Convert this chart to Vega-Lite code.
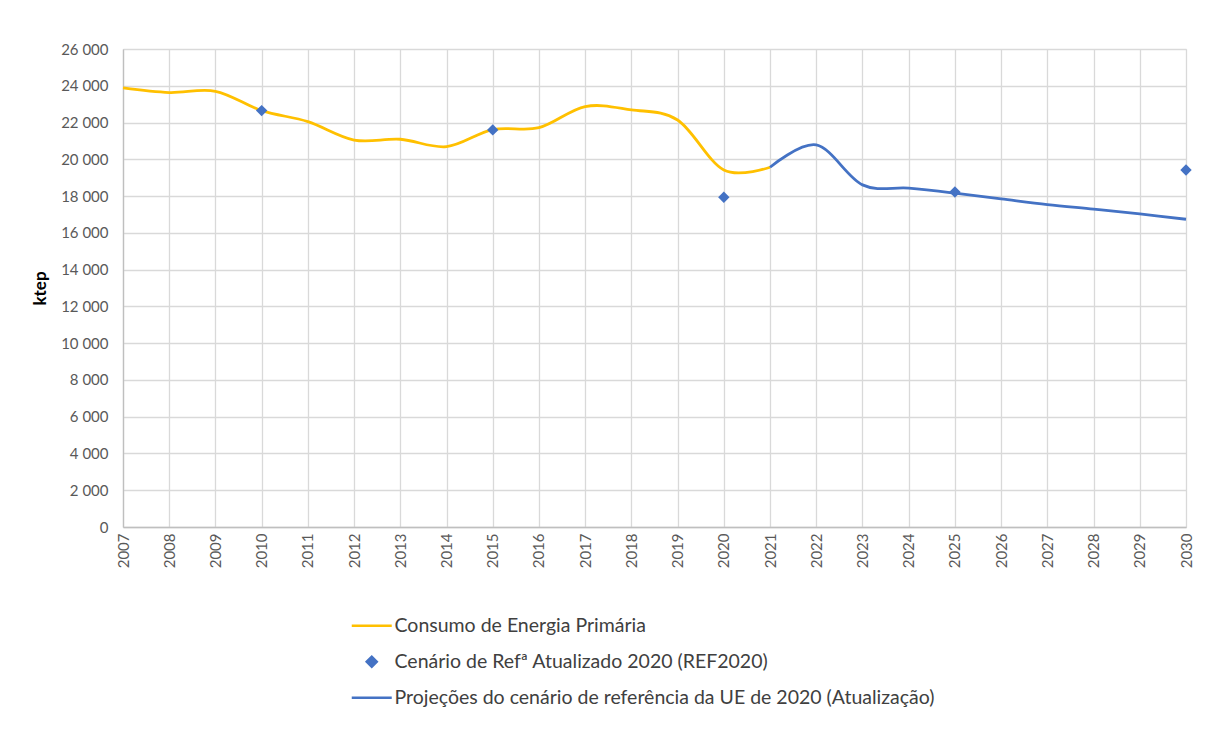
{
  "$schema": "https://vega.github.io/schema/vega-lite/v6.json",
  "width": 1063,
  "height": 478,
  "autosize": {"type": "none"},
  "padding": {"left": 123, "top": 49, "right": 23, "bottom": 202},
  "background": "white",
  "config": {
    "view": {"stroke": "#d9d9d9"},
    "font": "Lato",
    "axis": {
      "gridColor": "#d9d9d9",
      "gridWidth": 1.3,
      "domainColor": "#bfbfbf",
      "domainWidth": 1.3,
      "ticks": false,
      "labelColor": "#595959",
      "labelFont": "Lato",
      "labelFontSize": 15
    }
  },
  "datasets": {
    "lines": [
      {"year": 2007, "value": 23880, "series": "Consumo de Energia Primária"},
      {"year": 2008, "value": 23630, "series": "Consumo de Energia Primária"},
      {"year": 2009, "value": 23700, "series": "Consumo de Energia Primária"},
      {"year": 2010, "value": 22650, "series": "Consumo de Energia Primária"},
      {"year": 2011, "value": 22050, "series": "Consumo de Energia Primária"},
      {"year": 2012, "value": 21050, "series": "Consumo de Energia Primária"},
      {"year": 2013, "value": 21090, "series": "Consumo de Energia Primária"},
      {"year": 2014, "value": 20690, "series": "Consumo de Energia Primária"},
      {"year": 2015, "value": 21620, "series": "Consumo de Energia Primária"},
      {"year": 2016, "value": 21720, "series": "Consumo de Energia Primária"},
      {"year": 2017, "value": 22870, "series": "Consumo de Energia Primária"},
      {"year": 2018, "value": 22690, "series": "Consumo de Energia Primária"},
      {"year": 2019, "value": 22140, "series": "Consumo de Energia Primária"},
      {"year": 2020, "value": 19420, "series": "Consumo de Energia Primária"},
      {"year": 2021, "value": 19570, "series": "Consumo de Energia Primária"},
      {"year": 2021, "value": 19570, "series": "Projeções do cenário de referência da UE de 2020 (Atualização)"},
      {"year": 2022, "value": 20780, "series": "Projeções do cenário de referência da UE de 2020 (Atualização)"},
      {"year": 2023, "value": 18610, "series": "Projeções do cenário de referência da UE de 2020 (Atualização)"},
      {"year": 2024, "value": 18430, "series": "Projeções do cenário de referência da UE de 2020 (Atualização)"},
      {"year": 2025, "value": 18160, "series": "Projeções do cenário de referência da UE de 2020 (Atualização)"},
      {"year": 2026, "value": 17850, "series": "Projeções do cenário de referência da UE de 2020 (Atualização)"},
      {"year": 2027, "value": 17540, "series": "Projeções do cenário de referência da UE de 2020 (Atualização)"},
      {"year": 2028, "value": 17290, "series": "Projeções do cenário de referência da UE de 2020 (Atualização)"},
      {"year": 2029, "value": 17030, "series": "Projeções do cenário de referência da UE de 2020 (Atualização)"},
      {"year": 2030, "value": 16740, "series": "Projeções do cenário de referência da UE de 2020 (Atualização)"}
    ],
    "points": [
      {"year": 2010, "value": 22650, "series": "Cenário de Refª Atualizado 2020 (REF2020)"},
      {"year": 2015, "value": 21600, "series": "Cenário de Refª Atualizado 2020 (REF2020)"},
      {"year": 2020, "value": 17940, "series": "Cenário de Refª Atualizado 2020 (REF2020)"},
      {"year": 2025, "value": 18220, "series": "Cenário de Refª Atualizado 2020 (REF2020)"},
      {"year": 2030, "value": 19420, "series": "Cenário de Refª Atualizado 2020 (REF2020)"}
    ]
  },
  "encoding": {
    "x": {
      "field": "year",
      "type": "quantitative",
      "scale": {"domain": [2007, 2030], "nice": false, "zero": false},
      "axis": {
        "title": null,
        "values": [2007,2008,2009,2010,2011,2012,2013,2014,2015,2016,2017,2018,2019,2020,2021,2022,2023,2024,2025,2026,2027,2028,2029,2030],
        "format": "d",
        "labelAngle": -90,
        "labelAlign": "right",
        "labelBaseline": "middle",
        "labelPadding": 6,
        "labelFlush": false,
        "labelOverlap": false
      }
    },
    "y": {
      "field": "value",
      "type": "quantitative",
      "scale": {"domain": [0, 26000], "nice": false},
      "axis": {
        "title": "ktep",
        "titleFont": "Lato",
        "titleFontSize": 17,
        "titleFontWeight": "bold",
        "titleColor": "#000000",
        "titleAngle": -90,
        "titleX": -83,
        "titleY": 239,
        "titleAlign": "center",
        "titleBaseline": "middle",
        "values": [0,2000,4000,6000,8000,10000,12000,14000,16000,18000,20000,22000,24000,26000],
        "labelExpr": "replace(format(datum.value, ','), ',', ' ')",
        "labelPadding": 15
      }
    },
    "color": {
      "field": "series",
      "type": "nominal",
      "scale": {
        "domain": ["Consumo de Energia Primária", "Cenário de Refª Atualizado 2020 (REF2020)", "Projeções do cenário de referência da UE de 2020 (Atualização)"],
        "range": ["#FFC000", "#4472C4", "#4472C4"]
      },
      "legend": {
        "title": null,
        "orient": "none",
        "legendX": 239,
        "legendY": 567,
        "direction": "vertical",
        "padding": 0,
        "symbolSize": 100,
        "labelOffset": 13,
        "labelFont": "Lato",
        "labelFontSize": 19.5,
        "labelColor": "#404040",
        "labelLimit": 900,
        "rowPadding": 15,
        "encode": {
          "symbols": {
            "update": {
              "stroke": {"scale": "color", "field": "value"},
              "fill": {"scale": "color", "field": "value"},
              "strokeWidth": {"value": 2.5}
            }
          }
        }
      }
    }
  },
  "layer": [
    {
      "data": {"name": "lines"},
      "mark": {"type": "line", "interpolate": "cardinal", "strokeWidth": 2.8}
    },
    {
      "data": {"name": "points"},
      "mark": {"type": "point", "filled": true, "size": 130, "opacity": 1, "strokeWidth": 0},
      "encoding": {
        "shape": {
          "field": "series",
          "type": "nominal",
          "scale": {
            "domain": ["Consumo de Energia Primária", "Cenário de Refª Atualizado 2020 (REF2020)", "Projeções do cenário de referência da UE de 2020 (Atualização)"],
            "range": ["M-4,0H4", "M-1,0L0,-1L1,0L0,1Z", "M-4,0H4"]
          },
          "legend": {
            "title": null,
            "orient": "none",
            "legendX": 239,
            "legendY": 567
          }
        }
      }
    }
  ]
}
